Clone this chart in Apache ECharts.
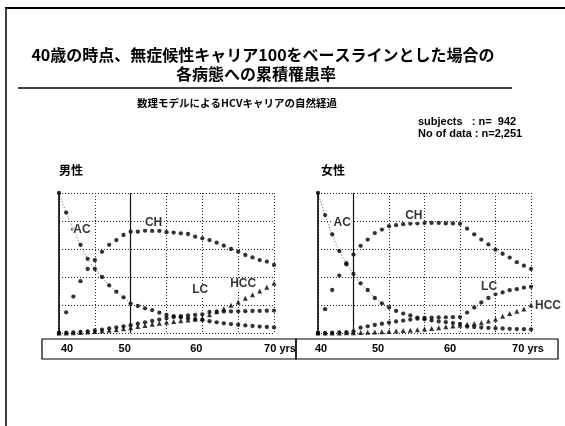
<!DOCTYPE html>
<html><head><meta charset="utf-8">
<script src="https://cdn.jsdelivr.net/npm/echarts@6/dist/echarts.min.js"></script>
<style>html,body{margin:0;padding:0;background:#fff}#c{width:565px;height:426px}</style>
</head><body><div id="c"></div><script>
// ---- data ----
const ages = [40,41,42,43,44,45,46,47,48,49,50,51,52,53,54,55,56,57,58,59,60,61,62,63,64,65,66,67,68,69,70];
const tickAges = [40,50,60,70];
const maleAC  = [100,86,74,63,53,45.7,40,34,29.5,25.5,21,19.3,17.6,16.4,14.5,12.9,12.0,11.2,10.5,9.9,9.3,8.4,7.6,6.9,6.4,5.9,5.4,5.0,4.6,4.3,4.0];
const maleCH  = [0,14.8,26,37,45.7,52,58,63,66.4,70,72.4,72.4,73.1,72.9,72.9,72,71.7,71.2,70.7,68.8,67.6,66.4,64.5,62.4,60,58.1,55.7,54,52.1,51,48.6];
const maleLC  = [0,0.2,0.5,0.8,1.2,1.8,2.4,3.2,4.0,4.8,5.6,6.6,7.6,8.6,9.6,10.6,11.4,12.0,12.5,12.9,13.3,15.0,15.2,15.3,15.4,15.5,15.6,15.7,15.8,15.9,16.0];
const maleHCC = [0,0,0.2,0.4,0.7,1.0,1.4,1.9,2.4,3.0,3.8,4.6,5.4,6.2,7.0,7.6,8.2,8.8,9.3,9.8,10.5,13.0,15.2,17.4,19.8,22.2,24.8,27.4,30.0,32.7,35.5];
const femaleAC  = [100,84.2,70.5,58.5,49.9,42.2,35.5,30.7,25,21.1,18.2,15.8,13.9,12.5,11,9.8,9.0,8.3,7.7,7.1,6.5,4.5,4.2,3.9,3.6,3.4,3.2,3.0,2.8,2.7,2.6];
const femaleCH  = [0,17,30.7,41,49,56,62.3,66.7,71.4,73.9,76.3,77,77.7,78.2,78.4,78.6,78.6,78.6,78.3,78.3,78.0,74.5,70.5,66.7,63.3,59.5,56.6,53.9,50.6,48.1,45.8];
const femaleLC  = [0,0,0.2,0.4,0.6,1.2,3.8,4.8,5.7,6.6,7.4,8.2,8.9,9.6,10.2,10.8,11.0,11.1,11.2,11.3,11.4,14.6,18.2,21.8,25,27.8,29,30.6,31.3,32.4,33.0];
const femaleHCC = [0,0,0,0,0.1,0.2,0.3,0.5,0.7,0.9,1.1,1.4,1.7,2.0,2.4,2.8,3.3,3.8,4.4,5.0,5.6,6.3,6.7,7.4,8.6,9.8,12,14,15.6,17.2,20.0];
const seriesNames = ['AC','CH','LC','HCC'];

// ---- layout (label anchors in data coords, styling) ----
const labelAnchors = [
  {AC:[43.2,74], CH:[53.2,78.6], LC:[59.7,30.7], HCC:[65.7,35]},
  {AC:[43.4,79], CH:[53.5,83.5], LC:[64.1,33], HCC:[72.4,19.4]}
];
const tickShift = [{40:8,50:-6,60:-6,70:6},{40:3,50:-11,60:-10,70:-3}];
const solidLine = [50,45];

const chart = echarts.init(document.getElementById('c'));
const LAT = '"Liberation Sans", Arial, sans-serif';
const JP = '"Noto Sans CJK JP", sans-serif';

function pairs(arr){ return ages.map((a,i)=>[a,arr[i]]); }

function makeRich(gi){
  const r = {};
  tickAges.forEach(t=>{
    const s = tickShift[gi][t];
    r['l'+t] = {fontFamily:LAT,fontWeight:'bold',fontSize:11,color:'#000',
      padding: s>=0 ? [0,0,0,2*s] : [0,-2*s,0,0]};
  });
  return r;
}

const grids = [
  {left:59, top:193, width:215, height:140},
  {left:318, top:193, width:213, height:140}
];
const xAxes = [], yAxes = [], series = [];
const sets = [[maleAC,maleCH,maleLC,maleHCC],[femaleAC,femaleCH,femaleLC,femaleHCC]];
[0,1].forEach(gi=>{
  xAxes.push({type:'value', gridIndex:gi, min:40, max:70, interval:5,
    axisLine:{show:false}, axisTick:{show:false},
    splitLine:{show:true, lineStyle:{color:'#222', type:[1,2], width:1}},
    axisLabel:{margin:10, rich:makeRich(gi),
      formatter:v=> (v%10!==0) ? '' : ('{l'+v+'|'+(v===70?'70 yrs':v)+'}')}
  });
  yAxes.push({type:'value', gridIndex:gi, min:0, max:100, interval:20,
    axisLine:{show:true, lineStyle:{color:'#000', width:1.6}}, axisTick:{show:false},
    axisLabel:{show:false},
    splitLine:{show:true, lineStyle:{color:'#222', type:[1,2], width:1}}
  });
  const d = sets[gi];
  series.push({type:'line', xAxisIndex:gi, yAxisIndex:gi, smooth:true, showSymbol:false,
    data: pairs(d[0]).slice(0,11), lineStyle:{color:'#444', width:0.9, type:[1,2]}, silent:true, z:2,
    markLine:{silent:true, symbol:'none', label:{show:false},
      lineStyle:{color:'#111', type:'solid', width:1.2},
      data:[{xAxis:solidLine[gi]}]}
  });
  d.forEach((arr,k)=>{
    series.push({type:'scatter', name:seriesNames[k], xAxisIndex:gi, yAxisIndex:gi,
      data:pairs(arr), symbol: k===3 ? 'triangle' : 'circle', symbolSize: k===3 ? 5 : 4.3,
      itemStyle:{color:'#000'}, z:3, silent:true});
  });
  const la = labelAnchors[gi];
  series.push({type:'scatter', xAxisIndex:gi, yAxisIndex:gi, clip:false, z:5, silent:true,
    symbolSize:1, itemStyle:{color:'transparent'},
    data: seriesNames.map(n=>({name:n, value:la[n]})),
    label:{show:true, position:'inside', formatter:'{b}', fontFamily:LAT, fontWeight:'bold',
      fontSize:12, color:'#000', backgroundColor:'#fff', padding:[0,1]}
  });
});

const txt = (x,y,t,size,align,font)=>({type:'text', x, y, style:{text:t, fontSize:size, fontWeight:'bold',
  fontFamily:font||JP, fill:'#000', textAlign:align||'center', textVerticalAlign:'middle'}});

chart.setOption({
  animation:false,
  grid:grids, xAxis:xAxes, yAxis:yAxes, series,
  graphic:[
    {type:'line', shape:{x1:5,y1:8,x2:565,y2:8}, style:{stroke:'#000', lineWidth:2}},
    {type:'line', shape:{x1:6,y1:8,x2:6,y2:426}, style:{stroke:'#000', lineWidth:1.5}},
    {type:'line', shape:{x1:18,y1:88,x2:512,y2:88}, style:{stroke:'#000', lineWidth:1.5}},
    txt(263,55,'40歳の時点、無症候性キャリア100をベースラインとした場合の',16),
    txt(256,73.5,'各病態への累積罹患率',16),
    txt(237,103,'数理モデルによるHCVキャリアの自然経過',10.5),
    txt(418,122,'subjects   : n=  942',11,'left',LAT),
    txt(418,134,'No of data : n=2,251',11,'left',LAT),
    txt(71,170,'男性',12),
    txt(333,170,'女性',12),
    {type:'rect', shape:{x:42,y:339,width:254,height:20}, style:{stroke:'#000', lineWidth:1.2, fill:'transparent'}},
    {type:'rect', shape:{x:296,y:339,width:262,height:20}, style:{stroke:'#000', lineWidth:1.2, fill:'transparent'}}
  ]
});
</script></body></html>
